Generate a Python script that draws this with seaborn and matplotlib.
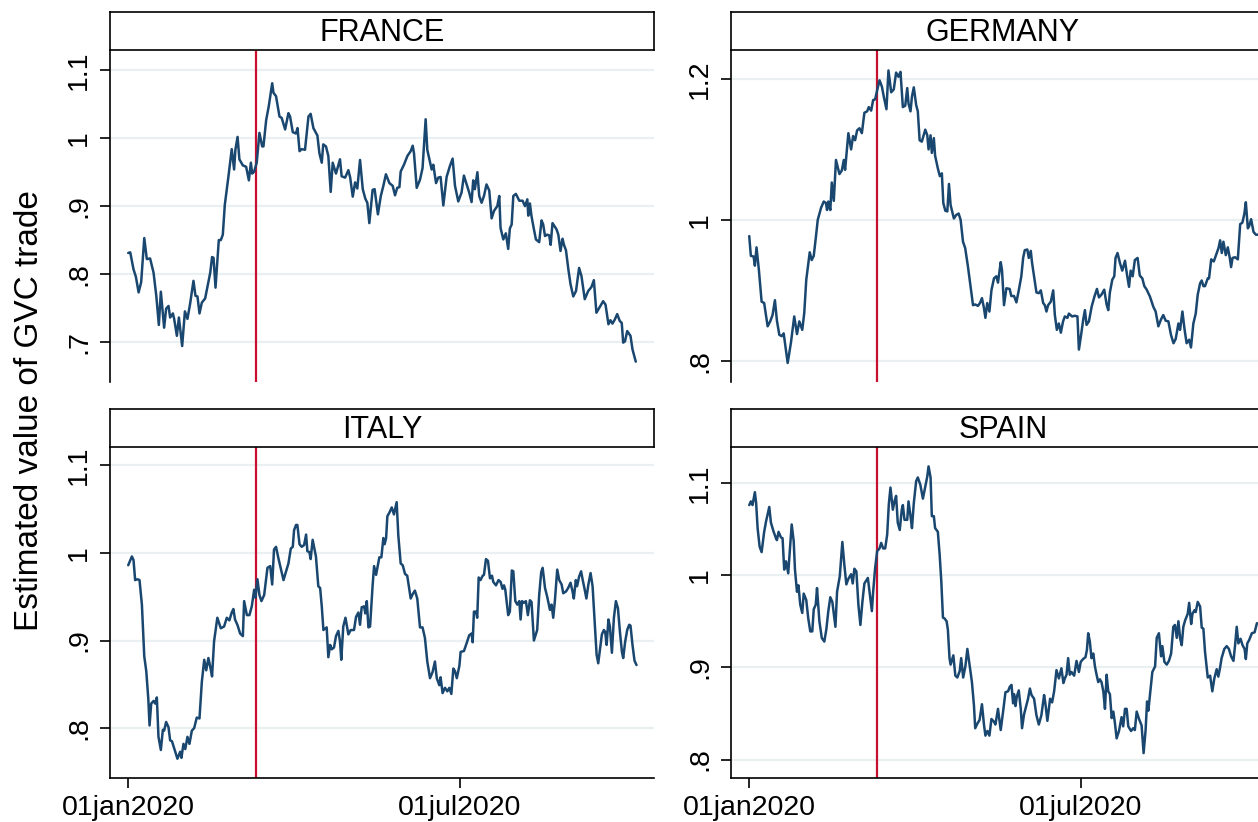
import pandas as pd
import seaborn as sns
import matplotlib.pyplot as plt
import matplotlib.dates as mdates

# days since 01jan2020 and estimated GVC trade value
france_day = [0, 1.1, 2.9, 4.2, 5.7, 7.1, 8.8, 10.2, 12, 13.9, 15.4, 16.8, 17.9, 19.7, 20.8, 22.1, 23, 24.5, 25.2, 26.7,
              27.8, 29.6, 31.1, 32.5, 34, 35.8, 36.9, 38, 39.1, 40.4, 42.2, 43.5, 45, 46, 46.8, 47.9, 49.7, 50.8, 51.9, 53,
              55, 56.8, 58.1, 58.8, 60, 61, 62.9, 64.7, 66.2, 67.3, 68, 69.1, 70.5, 72, 73.5, 74.2, 75.7, 77.1, 79, 79.7,
              81.1, 83, 84.2, 86.1, 87.9, 88.8, 90.3, 92, 92.9, 94, 95.2, 97, 98.9, 100.1, 101.6, 103.8, 104.9, 106.2, 107,
              108.5, 109.8, 111.1, 112.2, 114, 116.2, 117.1, 119, 120.8, 121.8, 123.2, 124.5, 125.7, 127.2, 128.7, 130.1,
              131.2, 132.3, 134.1, 135.2, 137, 138.6, 140, 141.4, 143.3, 145.1, 146.4, 147.6, 148.8, 149.5, 151.3, 153.2,
              155, 156.1, 156.8, 158.3, 160.1, 161.5, 163.2, 164.1, 165.6, 166.5, 167.4, 168.9, 170.1, 171.4, 172.9, 174.7,
              176.5, 178, 179.3, 181.1, 182.9, 184.2, 185.7, 187.1, 188.4, 189.3, 190.2, 191.6, 192.6, 193.9, 195.2, 196.6,
              198.1, 199.4, 200.7, 202.5, 203.6, 204.3, 205.8, 207.2, 208.5, 209.4, 210.4, 211.3, 212.7, 214.6, 216.4,
              217.7, 219, 219.5, 220.4, 221.3, 222.6, 223.7, 225.5, 226.8, 227.7, 228.7, 229.9, 231, 231.8, 232.8, 235,
              236, 237.2, 238.3, 239.1, 240.2, 241.5, 242.7, 244.2, 245.7, 247.4, 248.7, 250.5, 252.4, 254.2, 255.5, 256.9,
              258.4, 260.6, 261.9, 263.5, 264.6, 265.7, 267, 268.3, 269.7, 270.8, 271.6, 272.6, 273.8, 275.6, 276.7, 278.5]
france_val = [0.831, 0.832, 0.807, 0.796, 0.773, 0.788, 0.853, 0.822, 0.823, 0.802, 0.768, 0.725, 0.774, 0.721, 0.749,
              0.753, 0.736, 0.742, 0.734, 0.709, 0.736, 0.694, 0.745, 0.734, 0.757, 0.790, 0.768, 0.767, 0.742, 0.758,
              0.764, 0.782, 0.802, 0.825, 0.824, 0.780, 0.850, 0.850, 0.858, 0.902, 0.944, 0.984, 0.954, 0.983, 1.002,
              0.969, 0.960, 0.958, 0.938, 0.964, 0.948, 0.951, 0.964, 1.008, 0.988, 0.988, 1.027, 1.047, 1.081, 1.067,
              1.062, 1.032, 1.030, 1.013, 1.037, 1.032, 1.009, 1.007, 1.015, 0.981, 0.984, 0.983, 1.032, 1.036, 1.015,
              1.004, 0.978, 0.964, 0.991, 0.988, 0.974, 0.921, 0.964, 0.948, 0.969, 0.944, 0.942, 0.953, 0.942, 0.914,
              0.935, 0.926, 0.968, 0.925, 0.911, 0.905, 0.875, 0.924, 0.925, 0.888, 0.915, 0.930, 0.947, 0.934, 0.930,
              0.916, 0.927, 0.928, 0.951, 0.961, 0.974, 0.981, 0.989, 0.978, 0.927, 0.939, 0.956, 1.028, 0.983, 0.965,
              0.954, 0.961, 0.934, 0.942, 0.943, 0.901, 0.943, 0.959, 0.970, 0.930, 0.907, 0.920, 0.945, 0.932, 0.920,
              0.906, 0.938, 0.925, 0.950, 0.915, 0.905, 0.915, 0.932, 0.923, 0.882, 0.893, 0.900, 0.915, 0.868, 0.851,
              0.860, 0.837, 0.867, 0.873, 0.915, 0.918, 0.908, 0.908, 0.900, 0.910, 0.886, 0.904, 0.885, 0.866, 0.851,
              0.847, 0.879, 0.873, 0.856, 0.858, 0.857, 0.843, 0.875, 0.866, 0.858, 0.834, 0.852, 0.843, 0.835, 0.807,
              0.785, 0.767, 0.775, 0.809, 0.797, 0.763, 0.775, 0.781, 0.791, 0.743, 0.750, 0.760, 0.755, 0.726, 0.732,
              0.727, 0.733, 0.741, 0.731, 0.728, 0.699, 0.701, 0.716, 0.709, 0.689, 0.671]

germany_day = [0, 0.9, 2.4, 3.1, 4, 5.3, 6.8, 8.2, 10.1, 11.5, 12.8, 14.1, 15.2, 16.5, 17.8, 18.9, 21.1, 22.9, 24.7, 26.2,
               27.5, 29.1, 30.2, 31.3, 33.2, 34.3, 35.4, 36.6, 37.6, 39.4, 40.9, 42.1, 42.7, 43.4, 44.5, 45.3, 46.4, 47.6,
               49.5, 50.8, 51.9, 52.6, 54.4, 55.9, 57, 58.1, 59.2, 60.5, 61.8, 63.2, 64.7, 65.6, 66.9, 68, 69.1, 70.2,
               71.5, 72.8, 73.9, 75.3, 76.4, 77.9, 79.3, 80.6, 81.9, 83, 84.3, 85.6, 86.7, 87.4, 88.5, 89.3, 90.3, 91.6,
               92.5, 93.5, 94.7, 96.6, 97.7, 98.4, 99.5, 100.2, 101.3, 102, 103.5, 104.6, 105.7, 106.5, 107.6, 108.7,
               109.6, 110.5, 112.3, 113.6, 114.9, 116, 117.3, 118.5, 120, 121.5, 122.8, 124, 125.5, 126.6, 127.7, 128.8,
               129.6, 130.6, 131.8, 132.9, 134.3, 135.6, 136.5, 138, 138.7, 139.8, 141.1, 142.9, 143.8, 145.3, 146.6,
               147.9, 149.3, 150.3, 151.2, 152.6, 153.4, 154.5, 155.2, 156.3, 157.6, 158.9, 160, 161.3, 162.2, 163.1, 164,
               165.5, 166.8, 167.7, 168.8, 169.9, 171, 172.2, 173.2, 174.6, 175.4, 177.2, 178.7, 180.1, 180.9, 182, 183.3,
               184.2, 185.1, 186.4, 187.9, 189.4, 190.8, 191.9, 193.3, 194.8, 196.1, 197, 197.9, 199.2, 200.3, 201, 202.1,
               203.4, 204.7, 206.2, 207.3, 208.4, 209.3, 210.4, 211.6, 213.1, 214.3, 215.7, 216.8, 218.1, 219.9, 221.7,
               223, 224.5, 226, 227.2, 228.5, 230, 231.4, 232.8, 234, 235.5, 236.4, 237.7, 238.8, 240, 241.4, 242.4,
               243.7, 245, 246.1, 247.4, 248.3, 249.2, 250.1, 251.6, 252.3, 253.5, 254.9, 256, 257.5, 258.4, 259.3, 260.2,
               261.5, 262.6, 263.7, 264.4, 265.2, 266.6, 268.1, 269.4, 270.6, 271.7, 272.5, 273.6, 274.3, 275.4, 276.7,
               278, 279.1]
germany_val = [0.977, 0.949, 0.948, 0.935, 0.961, 0.929, 0.884, 0.882, 0.849, 0.856, 0.865, 0.886, 0.857, 0.837, 0.835,
               0.839, 0.797, 0.826, 0.863, 0.838, 0.856, 0.844, 0.868, 0.915, 0.954, 0.943, 0.949, 0.976, 1.000, 1.017,
               1.026, 1.024, 1.014, 1.026, 1.014, 1.053, 1.027, 1.085, 1.065, 1.070, 1.085, 1.071, 1.123, 1.100, 1.119,
               1.113, 1.127, 1.130, 1.123, 1.152, 1.154, 1.160, 1.155, 1.170, 1.171, 1.184, 1.198, 1.189, 1.174, 1.157,
               1.212, 1.181, 1.185, 1.209, 1.203, 1.210, 1.160, 1.162, 1.187, 1.165, 1.154, 1.175, 1.188, 1.163, 1.154,
               1.113, 1.111, 1.128, 1.120, 1.100, 1.120, 1.095, 1.116, 1.091, 1.073, 1.062, 1.066, 1.024, 1.013, 1.012,
               1.051, 1.021, 1.002, 1.007, 1.009, 1.000, 0.969, 0.960, 0.934, 0.905, 0.879, 0.880, 0.878, 0.882, 0.889,
               0.875, 0.861, 0.882, 0.870, 0.900, 0.917, 0.920, 0.911, 0.940, 0.929, 0.879, 0.903, 0.902, 0.892, 0.892,
               0.883, 0.900, 0.920, 0.946, 0.957, 0.958, 0.946, 0.956, 0.939, 0.920, 0.897, 0.896, 0.900, 0.882, 0.879,
               0.870, 0.879, 0.884, 0.900, 0.865, 0.844, 0.853, 0.840, 0.856, 0.863, 0.861, 0.867, 0.863, 0.864, 0.863,
               0.816, 0.835, 0.859, 0.872, 0.851, 0.856, 0.877, 0.891, 0.902, 0.890, 0.894, 0.901, 0.880, 0.872, 0.897,
               0.915, 0.920, 0.946, 0.953, 0.939, 0.928, 0.942, 0.922, 0.905, 0.928, 0.920, 0.943, 0.946, 0.921, 0.917,
               0.906, 0.901, 0.891, 0.877, 0.870, 0.849, 0.859, 0.865, 0.857, 0.856, 0.837, 0.825, 0.831, 0.853, 0.844,
               0.870, 0.846, 0.825, 0.830, 0.819, 0.853, 0.867, 0.894, 0.910, 0.914, 0.906, 0.906, 0.917, 0.917, 0.944,
               0.941, 0.949, 0.960, 0.971, 0.953, 0.969, 0.950, 0.961, 0.946, 0.933, 0.946, 0.947, 0.944, 0.994, 0.996,
               1.009, 1.025, 0.988, 0.991, 1.001, 0.983, 0.979, 0.979]

italy_day = [0, 2, 2.9, 3.8, 5.1, 6.2, 7.5, 8.8, 9.9, 11, 11.7, 12.6, 13.9, 14.8, 15.7, 16.6, 17.9, 19, 19.7, 20.8, 22.1,
             23, 24, 25.2, 27, 28.5, 29.2, 30.3, 31.3, 32.5, 33.6, 34.9, 36.2, 37.6, 39.1, 40.4, 41.7, 42.8, 44, 45, 46,
             47.1, 48.9, 50.8, 52.6, 54.1, 55.5, 56.8, 57.7, 58.6, 59.9, 61.4, 62.9, 63.6, 65.1, 66.5, 67.8, 69.1, 69.8,
             70.9, 72, 73.1, 74.6, 76.4, 77.9, 79, 80, 81.1, 82.4, 85.2, 86.6, 87.9, 89.2, 90.3, 91, 92.1, 92.8, 94, 95.2,
             96.5, 97.6, 98.3, 99.4, 100.1, 101.2, 103, 104.3, 105.3, 106.2, 107.1, 108.9, 109.8, 110.8, 111.7, 112.9,
             114, 115.3, 116.2, 116.9, 118, 119.2, 120.8, 122.1, 123.9, 125, 126.3, 127.2, 128.1, 129.4, 130.1, 130.9,
             131.8, 132.7, 134.1, 134.9, 136, 137.8, 138.9, 140, 140.7, 141.5, 142.2, 143.3, 144.6, 145.8, 147.3, 148.2,
             149.5, 150.6, 151.9, 153.1, 155, 156.1, 157.3, 158.6, 160.1, 161.5, 162.8, 164.1, 165.6, 167, 168.3, 169.3,
             170.7, 171.4, 172.5, 173.8, 175.1, 176.2, 177.3, 178.4, 179.3, 180.3, 181.7, 182.4, 184.2, 185.7, 187.1,
             188.4, 189, 189.7, 190.8, 191.5, 192.3, 193.3, 194.5, 195.2, 196.3, 197.4, 198.5, 199.6, 200.3, 201.8,
             203.2, 204.3, 205.4, 206.2, 206.9, 208.5, 209.4, 210.5, 211.3, 212.4, 213.5, 214.6, 215.3, 216.1, 217.1,
             218.2, 219.3, 220.4, 221.3, 222.6, 224.4, 225.5, 226.6, 227.4, 228.7, 229.9, 231.4, 232.3, 233.2, 234.1,
             235.4, 236.5, 237.8, 238.7, 240.2, 241.4, 242.7, 243.8, 244.5, 245.6, 246.3, 247.4, 248.5, 249.3, 250.3,
             251.4, 252.5, 253.7, 254.8, 255.9, 257, 257.9, 258.8, 259.9, 261, 261.7, 262.5, 263.5, 264.3, 265.4, 266.5,
             267.6, 268.7, 269.8, 270.9, 271.6, 272.7, 273.8, 274.9, 275.6, 276.7, 277.8, 278.9]
italy_val = [0.986, 0.996, 0.992, 0.969, 0.970, 0.969, 0.941, 0.882, 0.865, 0.834, 0.803, 0.828, 0.831, 0.828, 0.835,
             0.790, 0.775, 0.798, 0.797, 0.807, 0.801, 0.786, 0.785, 0.777, 0.765, 0.773, 0.766, 0.782, 0.776, 0.790,
             0.782, 0.797, 0.800, 0.812, 0.811, 0.853, 0.878, 0.866, 0.880, 0.870, 0.859, 0.899, 0.926, 0.914, 0.916,
             0.926, 0.923, 0.932, 0.936, 0.924, 0.918, 0.908, 0.905, 0.945, 0.929, 0.929, 0.939, 0.958, 0.949, 0.970,
             0.952, 0.945, 0.952, 0.983, 0.985, 0.964, 1.004, 1.007, 0.994, 0.969, 0.979, 0.988, 1.005, 1.007, 1.026,
             1.032, 1.032, 1.010, 1.007, 1.009, 1.021, 1.002, 1.001, 0.993, 1.015, 0.996, 0.962, 0.960, 0.939, 0.912,
             0.915, 0.881, 0.895, 0.890, 0.892, 0.905, 0.911, 0.899, 0.878, 0.916, 0.926, 0.907, 0.912, 0.912, 0.927,
             0.932, 0.918, 0.938, 0.939, 0.931, 0.945, 0.915, 0.916, 0.963, 0.985, 0.975, 0.995, 0.995, 1.017, 1.010,
             1.017, 1.042, 1.046, 1.052, 1.044, 1.058, 1.020, 0.988, 0.986, 0.976, 0.974, 0.948, 0.953, 0.957, 0.948,
             0.915, 0.915, 0.903, 0.876, 0.857, 0.864, 0.876, 0.857, 0.849, 0.858, 0.840, 0.846, 0.842, 0.846, 0.839,
             0.868, 0.865, 0.857, 0.871, 0.887, 0.888, 0.897, 0.906, 0.908, 0.898, 0.933, 0.933, 0.926, 0.972, 0.969,
             0.974, 0.975, 0.993, 0.991, 0.971, 0.974, 0.967, 0.963, 0.969, 0.967, 0.959, 0.963, 0.958, 0.929, 0.933,
             0.980, 0.979, 0.945, 0.941, 0.945, 0.924, 0.945, 0.943, 0.945, 0.929, 0.946, 0.944, 0.900, 0.912, 0.952,
             0.978, 0.983, 0.960, 0.950, 0.935, 0.941, 0.926, 0.945, 0.981, 0.969, 0.964, 0.954, 0.956, 0.960, 0.966,
             0.956, 0.948, 0.969, 0.962, 0.973, 0.979, 0.970, 0.960, 0.948, 0.964, 0.977, 0.962, 0.922, 0.884, 0.874,
             0.889, 0.907, 0.912, 0.910, 0.895, 0.924, 0.916, 0.886, 0.926, 0.945, 0.937, 0.910, 0.887, 0.880, 0.899,
             0.912, 0.918, 0.917, 0.895, 0.877, 0.872]

spain_day = [0, 0.9, 1.8, 3.1, 3.8, 4.6, 5.7, 6.8, 8.2, 9.2, 11, 11.9, 13.4, 14.7, 15.2, 16.1, 17.4, 18.3, 19.2, 20.2, 21.4,
             23.3, 24.4, 25.1, 26.2, 27, 28, 29.1, 29.9, 31.3, 32.4, 33.5, 34.6, 35.4, 36.5, 37.2, 38.5, 39.8, 41.2, 42.3,
             43.4, 44.5, 45.6, 47.3, 48.2, 49.7, 51.1, 52.2, 53.3, 54.4, 55.9, 56.8, 57.7, 58.8, 59.9, 61, 62.1, 63.2,
             65.1, 66.2, 67.3, 68, 69.1, 70.2, 71.5, 72.4, 73.5, 74.6, 75.7, 76.6, 77.5, 78.8, 79.7, 80.6, 81.5, 82.6,
             83.7, 84.3, 85.2, 86.7, 87.4, 88.5, 89.3, 90.3, 91.6, 92.5, 93.9, 95.3, 96.6, 97.7, 98.4, 99.5, 100.2, 101.3,
             102, 103.5, 104.5, 105.4, 106.3, 107.2, 108.3, 109, 109.9, 110.5, 112, 113.1, 114.2, 115.5, 116.3, 117.4,
             118.6, 119.7, 120.9, 122.2, 123.3, 124, 125.2, 126.4, 127.7, 128.8, 129.6, 130.7, 131.8, 132.9, 134.3, 135.1,
             136.5, 138, 139.3, 140.6, 142, 143, 143.9, 144.8, 145.3, 146.1, 146.8, 147.9, 149, 149.7, 150.8, 152.1, 153,
             154, 154.9, 156.3, 157.6, 158.9, 160.3, 161.8, 162.5, 163.6, 164.4, 165.1, 166.2, 167.3, 168.6, 169.9, 171.3,
             172.4, 173.2, 174.1, 175, 175.9, 176.8, 178.3, 179.6, 180.9, 181.9, 183.2, 184.5, 185.3, 186, 186.9, 187.8,
             188.8, 189.7, 190.6, 191.5, 192.4, 193.3, 194.3, 195.2, 196.1, 197, 197.9, 198.9, 199.8, 200.7, 201.6,
             202.9, 204.3, 205.2, 206.2, 207.1, 208, 209.5, 210.7, 211.6, 212.6, 213.9, 215.3, 216.4, 217.5, 218.3, 219,
             220.1, 221.2, 222.7, 223.6, 224.8, 226, 226.7, 227.8, 229.1, 230.3, 231.5, 232.7, 233.6, 234.6, 235.5,
             236.4, 237.3, 238.2, 239.2, 240.6, 241.4, 242.5, 243.2, 244.3, 245, 246.1, 247.4, 248.3, 249.2, 250.1,
             251.6, 252.9, 254.1, 255.2, 256.5, 257.4, 258.3, 259.2, 260.7, 262, 263.2, 264.4, 265.7, 266.6, 267.5,
             268.4, 269.6, 270.7, 271.8, 272.5, 273.3, 274.4, 275.8, 277.3, 278.6]
spain_val = [1.076, 1.080, 1.076, 1.090, 1.078, 1.051, 1.031, 1.025, 1.047, 1.058, 1.074, 1.057, 1.047, 1.040, 1.038,
             1.047, 1.041, 1.040, 1.006, 1.015, 1.002, 1.055, 1.037, 1.006, 0.982, 0.989, 0.968, 0.959, 0.980, 0.973,
             0.953, 0.939, 0.939, 0.963, 0.968, 0.986, 0.950, 0.932, 0.928, 0.941, 0.961, 0.976, 0.971, 0.944, 0.982,
             0.999, 1.036, 1.011, 0.990, 0.996, 1.001, 0.991, 1.007, 1.004, 0.968, 0.946, 0.971, 0.991, 0.997, 0.979,
             0.961, 0.982, 1.008, 1.026, 1.029, 1.035, 1.029, 1.029, 1.044, 1.077, 1.095, 1.071, 1.080, 1.086, 1.057,
             1.049, 1.071, 1.076, 1.060, 1.060, 1.080, 1.064, 1.051, 1.078, 1.102, 1.106, 1.098, 1.083, 1.096, 1.107,
             1.118, 1.106, 1.064, 1.064, 1.051, 1.047, 1.022, 0.993, 0.954, 0.953, 0.950, 0.941, 0.910, 0.903, 0.913,
             0.891, 0.889, 0.896, 0.910, 0.889, 0.901, 0.920, 0.903, 0.884, 0.859, 0.834, 0.839, 0.843, 0.860, 0.838,
             0.826, 0.831, 0.826, 0.844, 0.841, 0.838, 0.855, 0.832, 0.852, 0.873, 0.874, 0.879, 0.881, 0.861, 0.871,
             0.858, 0.868, 0.875, 0.855, 0.834, 0.849, 0.859, 0.866, 0.877, 0.870, 0.866, 0.848, 0.838, 0.848, 0.870,
             0.861, 0.842, 0.855, 0.866, 0.862, 0.874, 0.897, 0.888, 0.899, 0.883, 0.888, 0.892, 0.910, 0.892, 0.895,
             0.891, 0.907, 0.895, 0.906, 0.909, 0.911, 0.919, 0.937, 0.928, 0.910, 0.915, 0.901, 0.892, 0.884, 0.887,
             0.884, 0.874, 0.855, 0.892, 0.874, 0.871, 0.845, 0.852, 0.839, 0.823, 0.831, 0.846, 0.836, 0.855, 0.855,
             0.836, 0.831, 0.834, 0.832, 0.852, 0.844, 0.837, 0.807, 0.832, 0.863, 0.853, 0.874, 0.895, 0.901, 0.932,
             0.937, 0.912, 0.923, 0.906, 0.903, 0.907, 0.915, 0.944, 0.946, 0.932, 0.950, 0.932, 0.924, 0.944, 0.951,
             0.958, 0.970, 0.947, 0.958, 0.962, 0.960, 0.971, 0.966, 0.943, 0.942, 0.917, 0.889, 0.891, 0.874, 0.888,
             0.898, 0.890, 0.899, 0.910, 0.920, 0.923, 0.920, 0.912, 0.907, 0.924, 0.944, 0.926, 0.931, 0.924, 0.920,
             0.909, 0.926, 0.930, 0.937, 0.938, 0.948]

countries = ["FRANCE", "GERMANY", "ITALY", "SPAIN"]
yticks = {
    "FRANCE": [0.7, 0.8, 0.9, 1.0, 1.1],
    "GERMANY": [0.8, 1.0, 1.2],
    "ITALY": [0.8, 0.9, 1.0, 1.1],
    "SPAIN": [0.8, 0.9, 1.0, 1.1],
}
ylims = {
    "FRANCE": (0.641, 1.130),
    "GERMANY": (0.770, 1.241),
    "ITALY": (0.743, 1.121),
    "SPAIN": (0.780, 1.139),
}
xtick_dates = ["2020-01-01", "2020-07-01"]
xtick_labels = ["01jan2020", "01jul2020"]
shock_date = "2020-03-11"

start = pd.Timestamp("2020-01-01")
frames = []
for name, d, v in [("FRANCE", france_day, france_val), ("GERMANY", germany_day, germany_val),
                   ("ITALY", italy_day, italy_val), ("SPAIN", spain_day, spain_val)]:
    frames.append(pd.DataFrame({"country": name,
                                "date": start + pd.to_timedelta(d, unit="D"),
                                "value": v}))
df = pd.concat(frames, ignore_index=True)

sns.set_style("white")
plt.rcParams["font.family"] = ["Liberation Sans", "DejaVu Sans"]
plt.rcParams["text.color"] = "black"
plt.rcParams["xtick.color"] = "black"
plt.rcParams["ytick.color"] = "black"
plt.rcParams["axes.labelcolor"] = "black"

W, H = 1258, 822
fig = plt.figure(figsize=(W / 100, H / 100), dpi=100)

# pixel boxes (left, top, right, bottom) of plot areas, right column runs past the edge
boxes = {
    "FRANCE": (110, 50, 654, 382),
    "GERMANY": (731, 50, 1275, 382),
    "ITALY": (110, 447, 654, 778),
    "SPAIN": (731, 447, 1275, 778),
}
navy = "#1a476f"
red = "#c8102e"
grid = "#eaf0f2"
xmin = start - pd.Timedelta(days=10)
xmax = start + pd.Timedelta(days=288.5)

for name in countries:
    l, t, r, b = boxes[name]
    ax = fig.add_axes([l / W, 1 - b / H, (r - l) / W, (b - t) / H])
    sub = df[df["country"] == name]
    for yv in yticks[name]:
        ax.axhline(yv, color=grid, lw=1.6, zorder=0)
    ax.axvline(pd.Timestamp(shock_date), color=red, lw=1.6, zorder=1)
    sns.lineplot(data=sub, x="date", y="value", ax=ax, color=navy, lw=1.8,
                 estimator=None, sort=False, zorder=2)
    ax.set_xlim(xmin, xmax)
    ax.set_ylim(*ylims[name])
    ax.set_xlabel("")
    ax.set_ylabel("")
    ax.set_yticks(yticks[name])
    labs = []
    for yv in yticks[name]:
        s = f"{yv:g}"
        if s.startswith("0."):
            s = s[1:]
        labs.append(s)
    ax.set_yticklabels(labs, rotation=90, va="center", fontsize=20.5)
    ax.tick_params(axis="y", left=True, length=7, width=1.2, pad=6, color="black")
    for sp in ["top", "right"]:
        ax.spines[sp].set_visible(False)
    ax.spines["left"].set_color("black")
    ax.spines["left"].set_linewidth(1.2)
    if name in ("ITALY", "SPAIN"):
        ax.set_xticks([pd.Timestamp(x) for x in xtick_dates])
        ax.set_xticklabels(xtick_labels, fontsize=20.5)
        ax.tick_params(axis="x", bottom=True, length=7, width=1.2, pad=5, color="black")
        ax.spines["bottom"].set_color("black")
        ax.spines["bottom"].set_linewidth(1.2)
    else:
        ax.set_xticks([])
        ax.spines["bottom"].set_visible(False)

    # title strip
    sax = fig.add_axes([l / W, 1 - t / H, (r - l) / W, 38 / H])
    sax.set_xticks([])
    sax.set_yticks([])
    sax.set_facecolor("white")
    for sp in sax.spines.values():
        sp.set_color("black")
        sp.set_linewidth(1.2)
    sax.text(0.5, 0.45, name, ha="center", va="center", fontsize=22, transform=sax.transAxes)

fig.text(30 / W, 0.5, "Estimated value of GVC trade", rotation=90, ha="center", va="center", fontsize=24)

fig.savefig("out.png", dpi=100, facecolor="white")
